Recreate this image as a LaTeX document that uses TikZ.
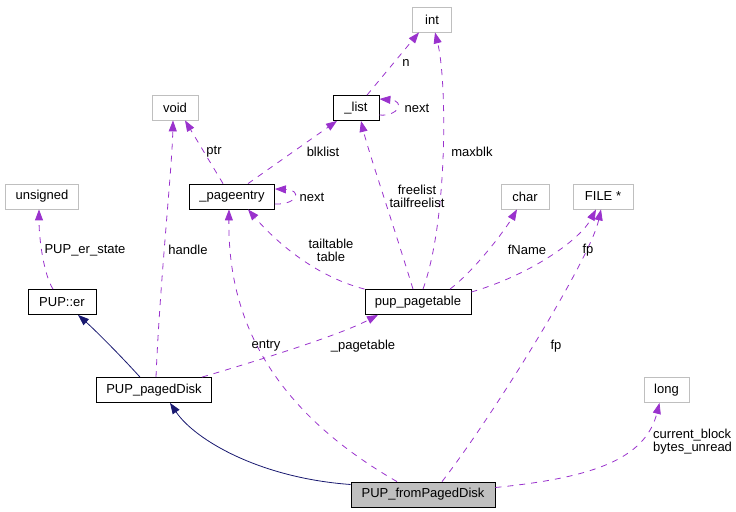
\documentclass[tikz,border=0pt]{standalone}
\usepackage{fontspec}
\setmainfont{Liberation Sans}
\usetikzlibrary{arrows.meta}
\definecolor{edgepurple}{HTML}{9A32CD}
\definecolor{edgenavy}{HTML}{191970}
\definecolor{boxgrey}{HTML}{BFBFBF}
\tikzset{
	cls/.style={draw=black, line width=0.8bp, minimum height=25bp, inner xsep=10bp, inner ysep=0pt, font=\fontsize{13bp}{13bp}\selectfont},
	ext/.style={cls, draw=boxgrey},
	dep/.style={draw=edgepurple, line width=0.8bp, dash pattern=on 6bp off 6bp, -{Triangle[length=11bp,width=8bp,fill=edgepurple]}},
	inh/.style={draw=edgenavy, line width=0.8bp, -{Triangle[length=11bp,width=8bp,fill=edgenavy]}},
	lbl/.style={inner sep=0pt, align=center, font=\fontsize{13bp}{13bp}\selectfont}
}

\begin{document}
\begin{tikzpicture}[x=1bp, y=-1bp]
			%%%%% START %%%%%
			\useasboundingbox (0, 0) rectangle (736, 512);
			
			\node[ext, minimum width=39bp] (int) at (432, 19.5) {int};
			\node[cls, minimum width=46bp] (list) at (356, 108) {\_list};
			\node[ext, minimum width=46bp] (void) at (175, 107.5) {void};
			\node[cls] (pageentry) at (232, 196.5) {\_pageentry};
			\node[ext] (unsigned) at (42, 196.5) {unsigned};
			\node[ext, minimum width=48bp] (char) at (525, 196.5) {char};
			\node[ext, minimum width=60bp] (file) at (603, 196.5) {FILE *};
			\node[cls, minimum width=68bp] (er) at (62, 302) {PUP::er};
			\node[cls, minimum width=106bp] (pagetable) at (418, 302) {pup\_pagetable};
			\node[cls] (pageddisk) at (154, 390) {PUP\_pagedDisk};
			\node[ext, minimum width=45bp] (long) at (666.5, 390) {long};
			\node[cls, fill=boxgrey, minimum width=144bp] (from) at (423, 494.5) {PUP\_fromPagedDisk};
			
			\draw[dep] ([xshift=11bp]list.north) -- ([xshift=-13bp]int.south);
			\draw[dep] ([yshift=-7bp]list.east) .. controls (398, 117) and (406, 101) .. ([yshift=9bp]list.east);
			\draw[dep] ([xshift=5bp]pagetable.north) .. controls (448, 220) and (447, 80) .. ([xshift=3bp]int.south);
			\draw[dep] ([xshift=-5bp]pagetable.north) .. controls (395, 230) and (368, 150) .. ([xshift=5bp]list.south);
			\draw[dep] ([xshift=16bp]pageentry.north) -- ([xshift=-19bp]list.south);
			\draw[dep] ([xshift=-9bp]pageentry.north) -- ([xshift=10bp]void.south);
			\draw[dep] ([yshift=-7.5bp]pageentry.east) .. controls (297, 205) and (303, 190) .. ([yshift=7.5bp]pageentry.east);
			\draw[dep] (pagetable.north west) .. controls (310, 275) and (270, 235) .. ([xshift=16bp]pageentry.south);
			\draw[dep] ([xshift=32bp]pagetable.north) .. controls (475, 270) and (505, 230) .. ([xshift=-8bp]char.south);
			\draw[dep] ([yshift=10bp]pagetable.east) .. controls (530, 275) and (580, 240) .. ([xshift=-7bp]file.south);
			\draw[dep] ([xshift=-9bp]er.north) .. controls (44, 275) and (39, 240) .. ([xshift=-3bp]unsigned.south);
			\draw[dep] ([xshift=2bp]pageddisk.north) .. controls (160, 280) and (172, 170) .. ([xshift=-2bp]void.south);
			\draw[dep] ([xshift=48bp]pageddisk.north) .. controls (260, 360) and (340, 335) .. ([xshift=-40bp]pagetable.south);
			\draw[inh] ([xshift=-14bp]pageddisk.north) .. controls (120, 355) and (95, 330) .. ([xshift=16bp]er.south);
			\draw[inh] ([yshift=10bp]from.west) .. controls (260, 478) and (195, 440) .. ([xshift=16bp]pageddisk.south);
			\draw[dep] ([xshift=-26bp]from.north) .. controls (255, 400) and (228, 300) .. ([xshift=-3bp]pageentry.south);
			\draw[dep] ([xshift=19bp]from.north) .. controls (490, 420) and (590, 260) .. ([xshift=-2bp]file.south);
			\draw[dep] ([yshift=7bp]from.east) .. controls (590, 478) and (645, 460) .. ([xshift=-7bp]long.south);
			
			\node[lbl] (nLbl) at (406, 63) {n};
			\node[lbl] (listnextLbl) at (417, 108) {next};
			\node[lbl] (maxblkLbl) at (472, 152) {maxblk};
			\node[lbl] (freelistLbl) at (417, 196.5) {freelist\\tailfreelist};
			\node[lbl] (blklistLbl) at (323, 152) {blklist};
			\node[lbl] (ptrLbl) at (214, 152) {ptr};
			\node[lbl] (entrynextLbl) at (312, 197) {next};
			\node[lbl] (tableLbl) at (331, 250) {tailtable\\table};
			\node[lbl] (fNameLbl) at (527, 250) {fName};
			\node[lbl] (fpLbl) at (588, 250) {fp};
			\node[lbl] (stateLbl) at (85, 250) {PUP\_er\_state};
			\node[lbl] (handleLbl) at (188, 250) {handle};
			\node[lbl] (entryLbl) at (266, 346) {entry};
			\node[lbl] (pagetableLbl) at (363, 346) {\_pagetable};
			\node[lbl] (fileLbl) at (556, 346) {fp};
			\node[lbl, anchor=west, align=left] (blockLbl) at (653, 441.5) {current\_block\\bytes\_unread};
			%%%%% END %%%%%
\end{tikzpicture}
\end{document}
